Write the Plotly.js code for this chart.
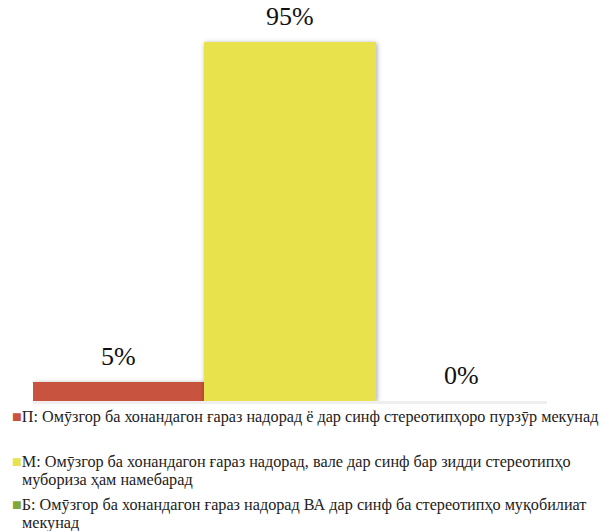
<!DOCTYPE html>
<html>
<head>
<meta charset="utf-8">
<script src="https://cdn.plot.ly/plotly-3.0.1.min.js"></script>
<style>
html,body{margin:0;padding:0;background:#fff;}
#chart{width:605px;height:531px;}
#chart .barlayer .point path{filter:drop-shadow(1px 1px 2.5px rgba(0,0,0,0.35));}
</style>
</head>
<body>
<div id="chart"></div>
<script>
const categories = ['П', 'М', 'Б'];
const values = [5, 95, 0];
const valueLabels = ['5%', '95%', '0%'];
// legend text for each category, split into its printed lines
const legendLines = [
  ['П: Омӯзгор ба хонандагон ғараз надорад ё дар синф стереотипҳоро пурзӯр мекунад'],
  ['М: Омӯзгор ба хонандагон ғараз надорад, вале дар синф бар зидди стереотипҳо', 'мубориза ҳам намебарад'],
  ['Б: Омӯзгор ба хонандагон ғараз надорад ВА дар синф ба стереотипҳо муқобилиат', 'мекунад']
];
const colors = ['#C8533F', '#E8E34C', '#7FA83A'];

const font = 'Liberation Serif';

const W = 605, H = 531;
const M = {l: 33, r: 58, t: 23, b: 130};
const plotW = W - M.l - M.r, plotH = H - M.t - M.b;
const px2x = p => (p - M.l) / plotW;
const px2y = p => 1 - (p - M.t) / plotH;

const traces = [{
  type: 'bar',
  x: categories,
  y: values,
  marker: {color: colors},
  showlegend: false,
  hoverinfo: 'none'
}];

const annotations = categories.map((c, i) => ({
  x: c,
  y: values[i],
  xref: 'x',
  yref: 'y',
  text: valueLabels[i],
  showarrow: false,
  yanchor: 'bottom',
  yshift: 9,
  font: {family: font, size: 26, color: '#111'}
}));

// legend drawn as text: first line carries the colour key
const legendTop = [417, 462, 505];
const lineStep = 17.5;
legendLines.forEach((lines, i) => {
  lines.forEach((t, j) => {
    annotations.push({
      xref: 'paper', yref: 'paper',
      x: px2x(j === 0 ? 10 : 19.5),
      y: px2y(legendTop[i] + j * lineStep),
      xanchor: 'left', yanchor: 'middle', align: 'left',
      showarrow: false,
      text: (j === 0 ? '<span style="color:' + colors[i] + '">■</span>' : '') + t,
      font: {family: font, size: 16.2, color: '#222'}
    });
  });
});

const layout = {
  width: W,
  height: H,
  margin: M,
  paper_bgcolor: '#fff',
  plot_bgcolor: '#fff',
  barmode: 'stack',
  bargap: 0,
  font: {family: font},
  xaxis: {
    type: 'category',
    range: [-0.5, 2.5],
    showticklabels: false,
    showgrid: false,
    zeroline: false,
    showline: true,
    linecolor: '#efefef',
    linewidth: 3,
    fixedrange: true
  },
  yaxis: {
    range: [0, 100],
    visible: false,
    fixedrange: true
  },
  showlegend: false,
  annotations: annotations
};

Plotly.newPlot('chart', traces, layout, {displayModeBar: false, staticPlot: true});
</script>
</body>
</html>
